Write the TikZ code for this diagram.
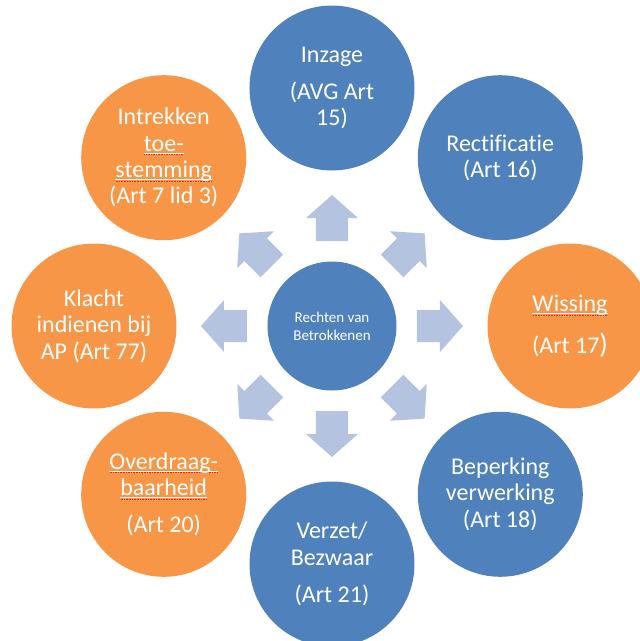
\documentclass[tikz,border=0pt]{standalone}
\usepackage{fontspec}
\setmainfont{Carlito}[Ligatures=CommonOff]
\definecolor{cblue}{HTML}{4F81BD}
\definecolor{corange}{HTML}{F79646}
\definecolor{carrow}{RGB}{180,196,224}
\definecolor{spellred}{RGB}{230,40,40}
\newcommand\spelled[1]{\setbox0=\hbox{#1}\leavevmode
  \rlap{\color{white}\rule[-2.3pt]{\wd0}{0.7pt}}%
  \rlap{\color{spellred}\raisebox{-4.0pt}{\hbox to \wd0{\xleaders\hbox to 1.6pt{\hss\rule{0.8pt}{0.8pt}\hss}\hfill}}}%
  \box0}
\tikzset{
  bubble/.style={circle, minimum size=165pt, inner sep=0pt, text=white,
    align=center, font=\fontsize{24}{26.4}\selectfont},
  bluebubble/.style={bubble, fill=cblue},
  orangebubble/.style={bubble, fill=corange},
  hub/.style={circle, fill=cblue, minimum size=129pt, inner sep=0pt,
    text=white, align=center, font=\fontsize{15}{18}\selectfont},
  fatarrow/.style={fill=carrow, draw=none}
}
\begin{document}
\begin{tikzpicture}[x=1pt,y=1pt]
\useasboundingbox (-332,326) rectangle (308,-315);
\clip (-332,326) rectangle (308,-315);
\node[hub] (hub) at (0,0) {Rechten van\\Betrokkenen};
\foreach \a in {0,45,...,315}
  \fill[fatarrow, shift={(hub.center)}, rotate=\a]
    (85,-16) -- (108,-16) -- (108,-26) -- (131,0) -- (108,26) -- (108,16) -- (85,16) -- cycle;
\node[bluebubble] (inzage) at (90:238) {Inzage\\[10.5pt](AVG Art\\15)};
\node[bluebubble] (rect) at (45:238) {Rectif\kern0pt icatie\\(Art 16)};
\node[orangebubble] (wis) at (0:238) {\spelled{Wissing}\\[15pt](Art 17{\fontsize{28}{28}\selectfont )}};
\node[bluebubble] (bep) at (-45:238) {Beperking\\verwerking\\(Art 18)};
\node[bluebubble] (verzet) at (-90:238) {Verzet/\\Bezwaar\\[11pt](Art 21)};
\node[orangebubble] (over) at (-135:238) {\spelled{Overdraag-}\\\spelled{baarheid}\\[11pt](Art 20)};
\node[orangebubble] (klacht) at (180:238) {Klacht\\indienen bij\\AP (Art 77)};
\node[orangebubble] (intr) at (135:238) {Intrekken\\\spelled{toe-}\\\spelled{stemming}\\(Art 7 lid 3)};
\end{tikzpicture}
\end{document}
